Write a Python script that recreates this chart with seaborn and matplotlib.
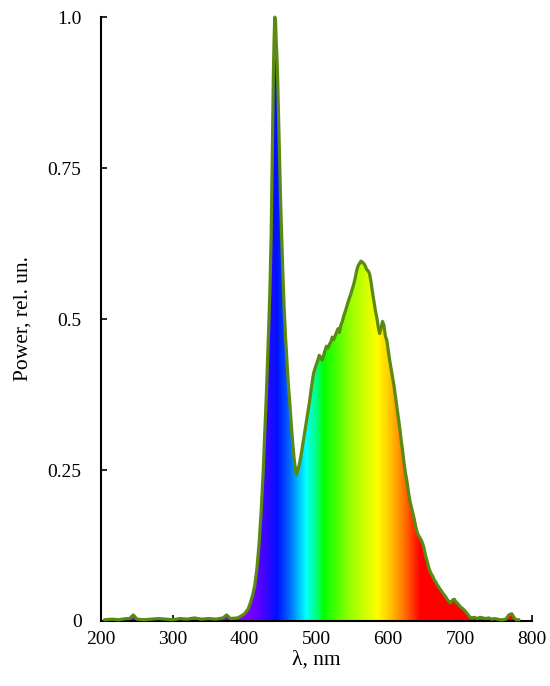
import numpy as np
import matplotlib
matplotlib.use("Agg")
import matplotlib.pyplot as plt
import seaborn as sns
from matplotlib.colors import LinearSegmentedColormap

# --- Data ---
wavelength_nm = [205, 215, 225, 235, 240, 245, 250, 260, 270, 280, 290, 300, 310, 320,
                 330, 340, 350, 360, 370, 375, 380, 390, 395, 400, 405, 408, 411, 414,
                 417, 420, 423, 426, 428, 430, 432, 434, 435.5, 437, 438, 439, 440, 441,
                 442, 443, 444, 445, 446, 447, 448, 449, 450, 451.5, 453, 455, 457, 459,
                 461, 463, 465, 467, 469, 471, 472.5, 474, 476, 478, 480, 482, 484, 486,
                 488, 490, 492, 494, 496, 498, 500, 502, 504, 506, 508, 510, 512, 514,
                 516, 518, 520, 522, 524, 526, 528, 530, 532, 534, 536, 538, 540, 542,
                 544, 546, 548, 550, 552, 554, 556, 558, 560, 562, 564, 566, 568, 570,
                 572, 574, 576, 578, 580, 582, 584, 586, 588, 590, 592, 594, 596, 598,
                 600, 602, 604, 606, 608, 610, 612, 614, 616, 618, 620, 622, 624, 626,
                 628, 630, 632, 634, 636, 638, 640, 642, 644, 646, 648, 650, 652, 654,
                 656, 658, 660, 662, 664, 666, 668, 670, 672, 674, 676, 678, 680, 682,
                 684, 686, 688, 690, 692, 694, 696, 698, 700, 702, 704, 706, 708, 710,
                 712, 714, 716, 720, 724, 728, 732, 736, 740, 744, 748, 752, 756, 760,
                 764, 768, 772, 775, 778, 782]
power_rel = [0.002, 0.003, 0.002, 0.004, 0.004, 0.010, 0.003, 0.002, 0.003, 0.004, 0.003,
             0.002, 0.004, 0.003, 0.005, 0.003, 0.004, 0.003, 0.005, 0.010, 0.004, 0.005,
             0.008, 0.012, 0.020, 0.030, 0.042, 0.058, 0.085, 0.125, 0.180, 0.250, 0.310,
             0.365, 0.430, 0.500, 0.560, 0.640, 0.720, 0.810, 0.900, 0.960, 1.000, 0.995,
             0.960, 0.935, 0.900, 0.850, 0.800, 0.750, 0.700, 0.640, 0.585, 0.520, 0.470,
             0.430, 0.390, 0.360, 0.325, 0.295, 0.268, 0.250, 0.242, 0.250, 0.258, 0.270,
             0.285, 0.300, 0.315, 0.330, 0.345, 0.360, 0.378, 0.395, 0.410, 0.418, 0.425,
             0.432, 0.440, 0.436, 0.432, 0.440, 0.448, 0.455, 0.452, 0.458, 0.462, 0.470,
             0.466, 0.472, 0.478, 0.484, 0.478, 0.490, 0.496, 0.505, 0.512, 0.520, 0.528,
             0.535, 0.542, 0.550, 0.558, 0.568, 0.580, 0.588, 0.592, 0.596, 0.594, 0.592,
             0.588, 0.582, 0.580, 0.575, 0.562, 0.545, 0.530, 0.515, 0.503, 0.488, 0.476,
             0.485, 0.496, 0.490, 0.472, 0.465, 0.448, 0.432, 0.418, 0.405, 0.390, 0.372,
             0.355, 0.338, 0.320, 0.300, 0.282, 0.262, 0.245, 0.232, 0.215, 0.200, 0.190,
             0.180, 0.170, 0.158, 0.148, 0.142, 0.138, 0.134, 0.128, 0.120, 0.108, 0.100,
             0.090, 0.083, 0.078, 0.074, 0.068, 0.065, 0.060, 0.057, 0.053, 0.050, 0.046,
             0.043, 0.040, 0.036, 0.033, 0.030, 0.032, 0.035, 0.036, 0.032, 0.030, 0.027,
             0.024, 0.022, 0.020, 0.018, 0.015, 0.012, 0.009, 0.006, 0.005, 0.006, 0.004,
             0.006, 0.005, 0.004, 0.005, 0.003, 0.004, 0.003, 0.002, 0.002, 0.003, 0.010,
             0.012, 0.006, 0.002, 0.002]

# colour stops of the rainbow fill (nm -> colour)
stop_nm = [200, 405, 420, 445, 462, 485, 500, 510, 545, 585, 600, 620, 645, 800]
stop_colors = ["#8000ff", "#8000ff", "#5a00ff", "#0010ff", "#0066ff", "#00ffff", "#00ff80",
               "#00ff00", "#90ff00", "#ffff00", "#ffd000", "#ff8000", "#ff0000", "#ff0000"]

x_ticks = [200, 300, 400, 500, 600, 700, 800]
y_ticks = [0, 0.25, 0.5, 0.75, 1.0]
y_tick_labels = ["0", "0.25", "0.5", "0.75", "1.0"]

# --- Plot ---
sns.set_theme(style="ticks")
plt.rcParams['font.family'] = ['Liberation Serif', 'DejaVu Serif']
plt.rcParams['text.color'] = 'black'
plt.rcParams['axes.labelcolor'] = 'black'

fig = plt.figure(figsize=(5.5, 6.86), dpi=100)
ax = fig.add_axes([0.1836, 0.0948, 0.7834, 0.8802])

# rainbow gradient clipped to the area under the curve
x_min, x_max = 200, 800
positions = [(n - x_min) / (x_max - x_min) for n in stop_nm]
cmap = LinearSegmentedColormap.from_list("spectrum", list(zip(positions, stop_colors)))
area = ax.fill_between(wavelength_nm, power_rel, 0, color="none", lw=0)
gradient = np.linspace(0, 1, 1200).reshape(1, -1)
img = ax.imshow(gradient, extent=[x_min, x_max, 0, 1], aspect="auto", cmap=cmap,
                origin="lower", interpolation="bilinear", zorder=1)
img.set_clip_path(area.get_paths()[0], transform=ax.transData)

sns.lineplot(x=wavelength_nm, y=power_rel, color="#5a8a12", lw=2.3, ax=ax,
             zorder=3, clip_on=False)

ax.set_xlim(x_min, x_max)
ax.set_ylim(0, 1.0)
ax.set_xticks(x_ticks)
ax.set_yticks(y_ticks)
ax.set_yticklabels(y_tick_labels)
ax.tick_params(direction="in", length=4, width=1.2, colors="black", labelsize=14)
ax.tick_params(axis="y", pad=14)
ax.tick_params(axis="x", pad=7)
sns.despine(ax=ax)
for s in ["left", "bottom"]:
    ax.spines[s].set_linewidth(1.5)
    ax.spines[s].set_color("black")

ax.set_xlabel("λ, nm", fontsize=15.5, labelpad=2)
ax.set_ylabel("Power, rel. un.", fontsize=15.5, labelpad=11)

plt.savefig("out.png", dpi=100)
